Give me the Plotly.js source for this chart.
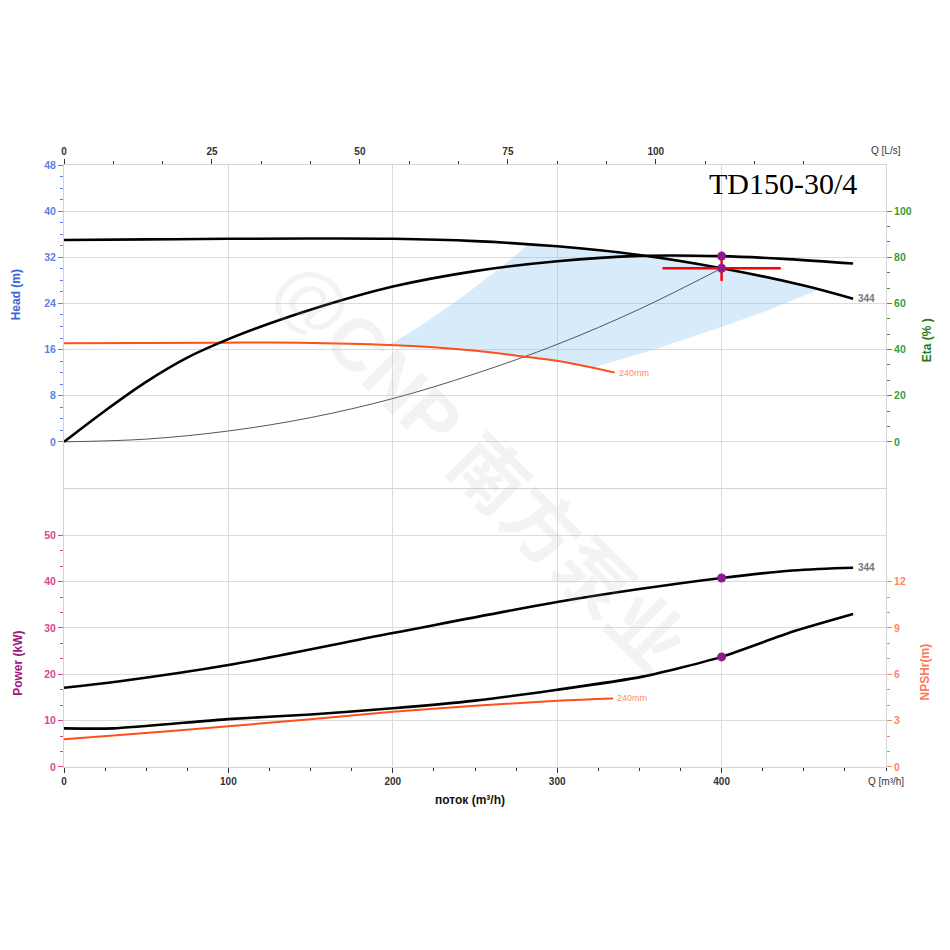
<!DOCTYPE html>
<html>
<head>
<meta charset="utf-8">
<script src="https://cdn.plot.ly/plotly-3.0.1.min.js"></script>
<style>html,body{margin:0;padding:0;background:#fff;}#chart{width:950px;height:950px;}</style>
</head>
<body>
<div id="chart"></div>
<script>
// ---------- data ----------
const Q_HEAD344 = [0, 50, 100, 150, 200, 250, 300, 350, 400, 450, 480];
const HEAD344   = [35.0, 35.1, 35.2, 35.25, 35.2, 34.8, 33.9, 32.4, 30.1, 27.1, 24.8];

const Q_ETA = [0, 25, 50, 75, 100, 125, 150, 200, 250, 300, 350, 400, 440, 480];
const ETA   = [0, 13.5, 26, 36.5, 44.5, 51.3, 57.3, 67.3, 74, 78.3, 80.6, 80.5, 79.2, 77.3];

const Q_SYS = [0, 50, 100, 150, 200, 250, 300, 350, 400];
const H_SYS = [0, 0.47, 1.88, 4.2, 7.5, 11.8, 16.9, 23.0, 30.1];

const Q_HEAD240 = [0, 50, 97, 143, 198, 247, 282, 305, 335];
const HEAD240   = [17.1, 17.15, 17.2, 17.2, 16.8, 15.9, 14.7, 13.8, 12.0];

const Q_REGION = [198, 220, 245, 265, 283, 300, 350, 400, 430, 458, 430, 400, 360, 322, 305, 282, 247, 198];
const H_REGION = [16.8, 20.7, 25.7, 30.1, 34.3, 33.9, 32.4, 30.1, 28.4, 26.3, 23.0, 19.9, 16.1, 12.9, 13.8, 14.7, 15.9, 16.8];

const Q_DUTY = 400;
const H_DUTY = 30.1;
const ETA_DUTY = 80.5;
const POWER_DUTY = 40.8;
const NPSH_DUTY = 7.13;
const CROSS_Q_H = [364, 436];
const CROSS_H_V = [27.9, 31.9];

const Q_POWER344 = [0, 34, 100, 200, 300, 350, 400, 443, 480];
const POWER344   = [17.1, 18.5, 22.0, 28.9, 35.6, 38.4, 40.8, 42.4, 43.0];

const Q_POWER240 = [0, 34, 100, 150, 200, 250, 300, 334];
const POWER240   = [6.0, 6.9, 8.8, 10.3, 11.9, 13.2, 14.3, 14.8];

const Q_NPSH = [0, 30, 100, 150, 200, 250, 300, 352, 400, 443, 480];
const NPSH   = [2.5, 2.5, 3.1, 3.4, 3.8, 4.3, 5.0, 5.85, 7.13, 8.75, 9.9];

const Q_TICKS = [0, 100, 200, 300, 400, 500];
const Q_TICKTEXT = ['0', '100', '200', '300', '400', ''];
const QLS_TICKS = [0, 25, 50, 75, 100];
const HEAD_TICKS = [0, 8, 16, 24, 32, 40, 48];
const ETA_TICKS = [0, 20, 40, 60, 80, 100];
const POWER_TICKS = [0, 10, 20, 30, 40, 50];
const NPSH_TICKS = [0, 3, 6, 9, 12];

const TITLE = 'TD150-30/4';

// ---------- helpers ----------
function minorVals(start, end, step) {
  const out = [];
  const n = Math.round((end - start) / step);
  for (let i = 0; i <= n; i++) out.push(+(start + i * step).toFixed(4));
  return out;
}

const FONT = 'Liberation Sans, Arial, sans-serif';
const GRID = '#dcdcdc';
const FRAME = '#d4d4d4';
const BLUE = '#5b7fe6', BLUE_T = '#3d63d6';
const GREEN = '#3b9a3b', GREEN_T = '#1e7a1e';
const PINK = '#d9478f', PURPLE_T = '#a0147f';
const SALMON = '#ff8466', SALMON_T = '#ff7a5a';
const ORANGE = '#ff4f1a';

const traces = [
  {x: Q_REGION, y: H_REGION, xaxis: 'x', yaxis: 'y', mode: 'lines', fill: 'toself',
   fillcolor: 'rgba(125,190,240,0.30)', line: {width: 0, color: 'rgba(0,0,0,0)'}, hoverinfo: 'skip'},
  {x: Q_SYS, y: H_SYS, xaxis: 'x', yaxis: 'y', mode: 'lines', line: {color: '#555', width: 1, shape: 'spline'}},
  {x: Q_HEAD240, y: HEAD240, xaxis: 'x', yaxis: 'y', mode: 'lines', line: {color: ORANGE, width: 2, shape: 'spline'}},
  {x: Q_HEAD344, y: HEAD344, xaxis: 'x', yaxis: 'y', mode: 'lines', line: {color: '#000', width: 2.6, shape: 'spline'}},
  {x: Q_ETA, y: ETA, xaxis: 'x', yaxis: 'y2', mode: 'lines', line: {color: '#000', width: 2.6, shape: 'spline'}},
  {x: CROSS_Q_H, y: [H_DUTY, H_DUTY], xaxis: 'x', yaxis: 'y', mode: 'lines', line: {color: '#ff0000', width: 2.5}},
  {x: [Q_DUTY, Q_DUTY], y: CROSS_H_V, xaxis: 'x', yaxis: 'y', mode: 'lines', line: {color: '#ff0000', width: 2.5}},
  {x: [Q_DUTY], y: [H_DUTY], xaxis: 'x', yaxis: 'y', mode: 'markers', marker: {color: '#8e1a8e', size: 9}},
  {x: [Q_DUTY], y: [ETA_DUTY], xaxis: 'x', yaxis: 'y2', mode: 'markers', marker: {color: '#8e1a8e', size: 9}},
  // empty trace so that the L/s axis is drawn
  {x: [QLS_TICKS[0]], y: [null], xaxis: 'x3', yaxis: 'y', mode: 'lines', hoverinfo: 'skip'},

  {x: Q_POWER240, y: POWER240, xaxis: 'x2', yaxis: 'y3', mode: 'lines', line: {color: ORANGE, width: 2, shape: 'spline'}},
  {x: Q_POWER344, y: POWER344, xaxis: 'x2', yaxis: 'y3', mode: 'lines', line: {color: '#000', width: 2.6, shape: 'spline'}},
  {x: Q_NPSH, y: NPSH, xaxis: 'x2', yaxis: 'y4', mode: 'lines', line: {color: '#000', width: 2.6, shape: 'spline', smoothing: 0.6}},
  {x: [Q_DUTY], y: [POWER_DUTY], xaxis: 'x2', yaxis: 'y3', mode: 'markers', marker: {color: '#8e1a8e', size: 9}},
  {x: [Q_DUTY], y: [NPSH_DUTY], xaxis: 'x2', yaxis: 'y4', mode: 'markers', marker: {color: '#8e1a8e', size: 9}}
];

const yTickFont = c => ({family: FONT, size: 10.5, color: c, weight: 'bold'});
const xTickFont = {family: FONT, size: 10, color: '#333', weight: 'bold'};

function ann(text, x, y, font, extra) {
  return Object.assign({text: text, xref: 'paper', yref: 'paper', x: x, y: y, showarrow: false,
    xanchor: 'center', yanchor: 'middle', font: font}, extra || {});
}

const layout = {
  width: 950, height: 950,
  margin: {l: 64, r: 64, t: 165, b: 183, pad: 0},
  paper_bgcolor: '#fff', plot_bgcolor: '#fff',
  showlegend: false,
  font: {family: FONT},
  xaxis: {domain: [0, 1], anchor: 'y', range: [0, 500], tickmode: 'array', tickvals: Q_TICKS,
          showticklabels: false, ticks: '', showgrid: true, gridcolor: GRID, zeroline: false,
          showline: true, linecolor: FRAME, linewidth: 1},
  xaxis3: {overlaying: 'x', side: 'top', anchor: 'y', range: [0, 500 / 3.6], tickmode: 'array',
           tickvals: QLS_TICKS, ticks: 'outside', ticklen: 5, tickcolor: '#333', tickwidth: 1,
           tickfont: xTickFont, showgrid: false, zeroline: false, showline: true, linecolor: FRAME,
           minor: {tickmode: 'array', tickvals: minorVals(0, 125, 25 / 3), ticks: 'outside', ticklen: 3, tickcolor: '#333', showgrid: false}},
  yaxis: {domain: [0.4635, 1], anchor: 'x', range: [-8, 48], tickmode: 'array', tickvals: HEAD_TICKS,
          ticks: 'outside', ticklen: 5, tickcolor: BLUE, tickfont: yTickFont(BLUE),
          showgrid: true, gridcolor: GRID, zeroline: false, showline: true, linecolor: FRAME,
          minor: {tickmode: 'array', tickvals: minorVals(0, 48, 2), ticks: 'outside', ticklen: 3, tickcolor: BLUE, showgrid: false}},
  yaxis2: {overlaying: 'y', side: 'right', anchor: 'x', range: [-20, 120], tickmode: 'array', tickvals: ETA_TICKS,
           ticks: 'outside', ticklen: 5, tickcolor: GREEN, tickfont: yTickFont(GREEN),
           showgrid: false, zeroline: false, showline: true, linecolor: FRAME,
           minor: {tickmode: 'array', tickvals: minorVals(0, 100, 20 / 3), ticks: 'outside', ticklen: 3, tickcolor: GREEN, showgrid: false}},
  xaxis2: {domain: [0, 1], anchor: 'y3', range: [0, 500], tickmode: 'array', tickvals: Q_TICKS, ticktext: Q_TICKTEXT,
           ticks: 'outside', ticklen: 5, tickcolor: '#333', tickfont: xTickFont,
           showgrid: true, gridcolor: GRID, zeroline: false, showline: true, mirror: true, linecolor: FRAME,
           minor: {tickmode: 'array', tickvals: minorVals(0, 500, 25), ticks: 'outside', ticklen: 3, tickcolor: '#333', showgrid: false}},
  yaxis3: {domain: [0, 0.4618], anchor: 'x2', range: [0, 60], tickmode: 'array', tickvals: POWER_TICKS,
           ticks: 'outside', ticklen: 5, tickcolor: PINK, tickfont: yTickFont(PINK),
           showgrid: true, gridcolor: GRID, zeroline: false, showline: true, linecolor: FRAME,
           minor: {tickmode: 'array', tickvals: minorVals(0, 50, 10 / 3), ticks: 'outside', ticklen: 3, tickcolor: PINK, showgrid: false}},
  yaxis4: {overlaying: 'y3', side: 'right', anchor: 'x2', range: [0, 18], tickmode: 'array', tickvals: NPSH_TICKS,
           ticks: 'outside', ticklen: 5, tickcolor: SALMON, tickfont: yTickFont(SALMON),
           showgrid: false, zeroline: false, showline: true, linecolor: FRAME,
           minor: {tickmode: 'array', tickvals: minorVals(0, 12, 1), ticks: 'outside', ticklen: 3, tickcolor: SALMON, showgrid: false}},
  annotations: [
    ann('@CNP 南方泵业', 0.506, 0.50,
        {family: 'Liberation Sans, Noto Sans CJK SC, sans-serif', size: 74, color: 'rgba(170,170,170,0.14)', weight: 'bold'},
        {textangle: 45}),
    ann(TITLE, 0.875, 0.97, {family: 'Liberation Serif, Times New Roman, serif', size: 30, color: '#000'}),
    ann('Head (m)', -0.058, 0.784, {family: FONT, size: 12, color: BLUE_T, weight: 'bold'}, {textangle: -90}),
    ann('Eta (% )', 1.05, 0.709, {family: FONT, size: 12, color: GREEN_T, weight: 'bold'}, {textangle: -90}),
    ann('Power (kW)', -0.056, 0.173, {family: FONT, size: 12, color: PURPLE_T, weight: 'bold'}, {textangle: -90}),
    ann('NPSHr(m)', 1.047, 0.158, {family: FONT, size: 12, color: SALMON_T, weight: 'bold'}, {textangle: -90}),
    ann('Q [L/s]', 1.0, 1.0249, {family: FONT, size: 10, color: '#333'}),
    ann('Q [m³/h]', 1.0, -0.0249, {family: FONT, size: 10, color: '#333'}),
    ann('поток (m³/h)', 0.494, -0.055, {family: FONT, size: 12, color: '#111', weight: 'bold'}),
    {text: '344', xref: 'x', yref: 'y', x: Q_HEAD344[Q_HEAD344.length - 1], y: HEAD344[HEAD344.length - 1],
     xanchor: 'left', yanchor: 'middle', xshift: 3, showarrow: false, font: {family: FONT, size: 10, color: '#777', weight: 'bold'}},
    {text: '344', xref: 'x2', yref: 'y3', x: Q_POWER344[Q_POWER344.length - 1], y: POWER344[POWER344.length - 1],
     xanchor: 'left', yanchor: 'middle', xshift: 3, showarrow: false, font: {family: FONT, size: 10, color: '#777', weight: 'bold'}},
    {text: '240mm', xref: 'x', yref: 'y', x: Q_HEAD240[Q_HEAD240.length - 1], y: HEAD240[HEAD240.length - 1],
     xanchor: 'left', yanchor: 'middle', xshift: 2, showarrow: false, font: {family: FONT, size: 9, color: '#ff8a6a'}},
    {text: '240mm', xref: 'x2', yref: 'y3', x: Q_POWER240[Q_POWER240.length - 1], y: POWER240[POWER240.length - 1],
     xanchor: 'left', yanchor: 'middle', xshift: 2, showarrow: false, font: {family: FONT, size: 9, color: '#ff8a6a'}}
  ]
};

Plotly.newPlot('chart', traces, layout, {staticPlot: true, displayModeBar: false});
</script>
</body>
</html>
